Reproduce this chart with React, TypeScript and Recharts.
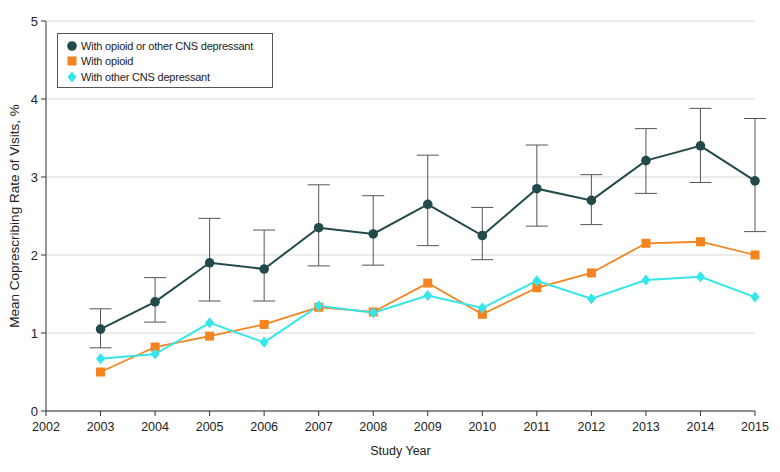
import React from 'react';
import { LineChart, Line, XAxis, YAxis, CartesianGrid, ErrorBar } from 'recharts';

const years = [2003, 2004, 2005, 2006, 2007, 2008, 2009, 2010, 2011, 2012, 2013, 2014, 2015];
const anyDepressant = [1.05, 1.4, 1.9, 1.82, 2.35, 2.27, 2.65, 2.25, 2.85, 2.7, 3.21, 3.4, 2.95];
const anyLow = [0.81, 1.14, 1.41, 1.41, 1.86, 1.87, 2.12, 1.94, 2.37, 2.39, 2.79, 2.93, 2.3];
const anyHigh = [1.31, 1.71, 2.47, 2.32, 2.9, 2.76, 3.28, 2.61, 3.41, 3.03, 3.62, 3.88, 3.75];
const withOpioid = [0.5, 0.82, 0.96, 1.11, 1.33, 1.27, 1.64, 1.24, 1.58, 1.77, 2.15, 2.17, 2.0];
const withOtherCns = [0.67, 0.73, 1.13, 0.88, 1.35, 1.26, 1.48, 1.32, 1.67, 1.44, 1.68, 1.72, 1.46];

const xTicks = [2002, 2003, 2004, 2005, 2006, 2007, 2008, 2009, 2010, 2011, 2012, 2013, 2014, 2015];
const yTicks = [0, 1, 2, 3, 4, 5];

const DARK = '#234a4b';
const ORANGE = '#f5841f';
const CYAN = '#33e6ec';
const FONT = '"Liberation Sans", Arial, sans-serif';

const data = years.map((year, i) => ({
  year,
  any: anyDepressant[i],
  anyErr: [anyDepressant[i] - anyLow[i], anyHigh[i] - anyDepressant[i]],
  opioid: withOpioid[i],
  other: withOtherCns[i],
}));

const SquareDot = (props: any) => {
  const { cx, cy, index } = props;
  return <rect key={`sq-${index}`} x={cx - 4.5} y={cy - 4.5} width={9} height={9} fill={ORANGE} />;
};

const DiamondDot = (props: any) => {
  const { cx, cy, index } = props;
  return (
    <polygon
      key={`dm-${index}`}
      points={`${cx},${cy - 5.5} ${cx + 4.5},${cy} ${cx},${cy + 5.5} ${cx - 4.5},${cy}`}
      fill={CYAN}
    />
  );
};

const legendItems = [
  { label: 'With opioid or other CNS depressant', shape: 'circle', color: DARK },
  { label: 'With opioid', shape: 'square', color: ORANGE },
  { label: 'With other CNS depressant', shape: 'diamond', color: CYAN },
];

const LegendBox = () => (
  <div
    style={{
      position: 'absolute',
      left: 57,
      top: 33,
      width: 216,
      height: 55,
      border: '1px solid #555',
      background: '#fff',
      fontFamily: FONT,
      fontSize: 11,
      letterSpacing: -0.2,
      color: '#222',
      boxSizing: 'border-box',
      paddingTop: 4,
      paddingLeft: 8,
    }}
  >
    {legendItems.map((item) => (
      <div key={item.label} style={{ display: 'flex', alignItems: 'center', height: 15.5 }}>
        <svg width={12} height={12} style={{ marginRight: 3 }}>
          {item.shape === 'circle' && <circle cx={6} cy={6} r={4.8} fill={item.color} />}
          {item.shape === 'square' && <rect x={1.5} y={1.5} width={9} height={9} fill={item.color} />}
          {item.shape === 'diamond' && <polygon points="6,0.5 10.5,6 6,11.5 1.5,6" fill={item.color} />}
        </svg>
        <span>{item.label}</span>
      </div>
    ))}
  </div>
);

export default function App() {
  return (
    <div style={{ position: 'absolute', left: 0, top: 0, width: 780, height: 472, background: '#fff' }}>
      <LineChart width={780} height={472} data={data} margin={{ top: 21, right: 25, left: 0, bottom: 0 }}>
        <CartesianGrid vertical={false} stroke="#d8d8d8" strokeWidth={1} />
        <XAxis
          dataKey="year"
          type="number"
          domain={[2002, 2015]}
          ticks={xTicks}
          height={61}
          stroke="#333"
          tickSize={5}
          tickMargin={6}
          tick={{ fill: '#222', fontSize: 12.5, fontFamily: FONT }}
          label={{ value: 'Study Year', position: 'insideBottom', offset: 17, fill: '#222', fontSize: 12.5, fontFamily: FONT }}
        />
        <YAxis
          domain={[0, 5]}
          ticks={yTicks}
          width={46}
          stroke="#333"
          tickSize={5}
          tickMargin={3}
          tick={{ fill: '#222', fontSize: 13, fontFamily: FONT }}
          label={{
            value: 'Mean Coprescribing Rate of Visits, %',
            angle: -90,
            position: 'insideLeft',
            offset: 14,
            style: { textAnchor: 'middle' },
            fill: '#222',
            fontSize: 13.5,
            fontFamily: FONT,
          }}
        />
        <Line
          dataKey="opioid"
          stroke={ORANGE}
          strokeWidth={1.8}
          dot={<SquareDot />}
          activeDot={false}
          isAnimationActive={false}
        />
        <Line
          dataKey="other"
          stroke={CYAN}
          strokeWidth={2}
          dot={<DiamondDot />}
          activeDot={false}
          isAnimationActive={false}
        />
        <Line
          dataKey="any"
          stroke={DARK}
          strokeWidth={2}
          dot={{ r: 4.8, fill: DARK, stroke: 'none' }}
          activeDot={false}
          isAnimationActive={false}
        >
          <ErrorBar dataKey="anyErr" width={11} stroke="#555" strokeWidth={1} direction="y" />
        </Line>
      </LineChart>
      <LegendBox />
    </div>
  );
}
